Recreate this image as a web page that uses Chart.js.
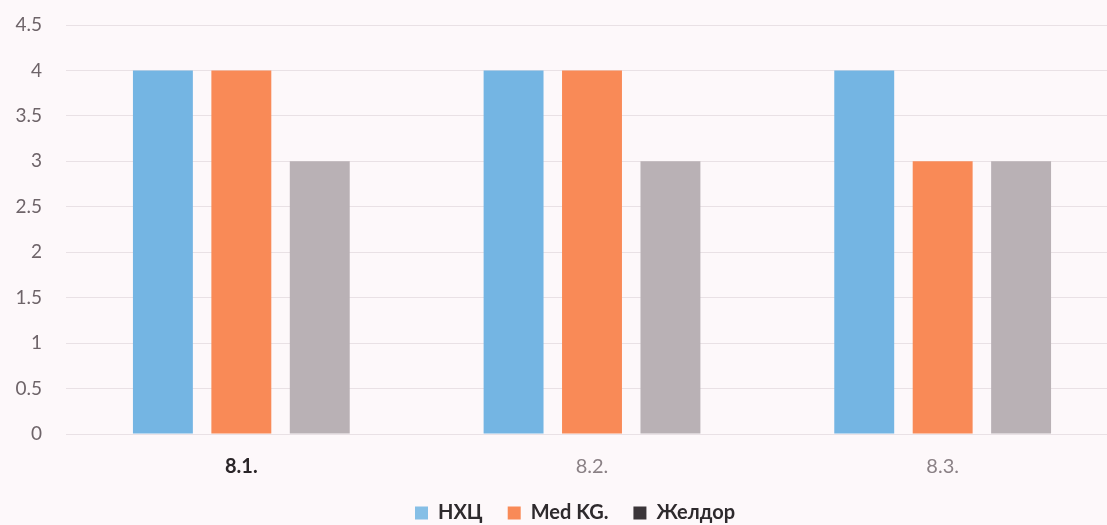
<!DOCTYPE html>
<html>
<head>
<meta charset="utf-8">
<script src="https://cdn.jsdelivr.net/npm/chart.js@4"></script>
<style>
  html, body { margin: 0; padding: 0; background: #fdf8fa; overflow: hidden; }
  #wrap { position: relative; width: 1118px; height: 525px; }
</style>
</head>
<body>
<div id="wrap"><canvas id="chart"></canvas></div>
<script>
// Categories and series values
const categories = ['8.1.', '8.2.', '8.3.'];
const seriesNames = ['НХЦ', 'Med KG.', 'Желдор'];
const nhcValues = [4, 4, 4];
const medKgValues = [4, 4, 3];
const zheldorValues = [3, 3, 3];
const yTicks = [0, 0.5, 1, 1.5, 2, 2.5, 3, 3.5, 4, 4.5];

const barColors = ['#74b5e3', '#f98a57', '#b9b1b5'];
const legendBoxColors = ['#86bfe6', '#f98a57', '#3b3539'];

const fontFamily = 'Lato, "Open Sans", sans-serif';

const X_AXIS_TRIM = 22;

// Layout tweaks: the x axis reserves less height than its labels need
// (so the plot reaches lower), then its label clip box is restored;
// the bottom legend is nudged slightly right of centre.
const layoutTweaks = {
  id: 'layoutTweaks',
  afterLayout(chart) {
    const x = chart.scales.x;
    x.bottom += X_AXIS_TRIM;
    x.height += X_AXIS_TRIM;
    const lg = chart.legend;
    if (lg) { lg.left += 16; lg.right += 16; }
  }
};

new Chart(document.getElementById('chart'), {
  type: 'bar',
  data: {
    labels: categories,
    datasets: [
      { label: seriesNames[0], data: nhcValues, backgroundColor: barColors[0] },
      { label: seriesNames[1], data: medKgValues, backgroundColor: barColors[1] },
      { label: seriesNames[2], data: zheldorValues, backgroundColor: barColors[2] }
    ]
  },
  plugins: [layoutTweaks],
  options: {
    responsive: true,
    maintainAspectRatio: false,
    animation: false,
    layout: { padding: { top: 25, left: 0, right: 0, bottom: -8 } },
    datasets: {
      bar: { barPercentage: 0.764, categoryPercentage: 0.671 }
    },
    scales: {
      x: {
        grid: { display: false, drawTicks: false },
        border: { display: false },
        afterFit: (scale) => {
          scale.height -= X_AXIS_TRIM;
          scale.paddingLeft = 0;
          scale.paddingRight = 0;
        },
        ticks: {
          padding: 21,
          color: (ctx) => ctx.index === 0 ? '#2a2528' : '#8a8085',
          font: (ctx) => ({ family: fontFamily, size: 20, weight: ctx.index === 0 ? 'bold' : 'normal' })
        }
      },
      y: {
        min: 0,
        max: 4.5,
        afterBuildTicks: (scale) => { scale.ticks = yTicks.map(v => ({ value: v })); },
        afterFit: (scale) => {
          scale.width = 66;
          scale.paddingTop = 0;
          scale.paddingBottom = 0;
        },
        grid: { color: '#e9e1e5', lineWidth: 1, drawTicks: false },
        border: { display: false },
        ticks: {
          padding: 24,
          color: '#6e6469',
          font: { family: fontFamily, size: 19 },
          callback: (v) => String(v)
        }
      }
    },
    plugins: {
      tooltip: { enabled: false },
      legend: {
        position: 'bottom',
        labels: {
          boxWidth: 13,
          boxHeight: 13,
          padding: 25,
          color: '#2e2a2d',
          font: { family: fontFamily, size: 20, weight: 'bold' },
          generateLabels: (chart) => chart.data.datasets.map((ds, i) => ({
            text: ds.label,
            fillStyle: legendBoxColors[i],
            strokeStyle: legendBoxColors[i],
            lineWidth: 0,
            hidden: false,
            datasetIndex: i,
            fontColor: '#2e2a2d'
          }))
        }
      }
    }
  }
});
</script>
</body>
</html>
